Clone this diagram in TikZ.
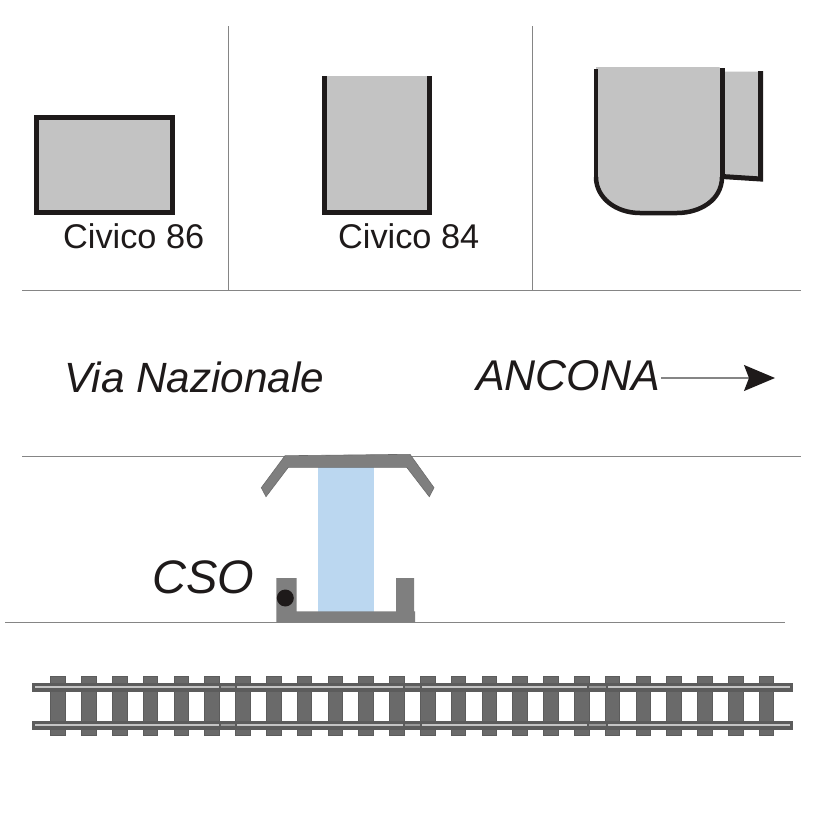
\documentclass[tikz,border=0pt]{standalone}
\usepackage{fontspec}
\setmainfont{Liberation Sans}
\usetikzlibrary{arrows.meta}
\definecolor{housegray}{HTML}{C3C3C3}
\definecolor{housedark}{HTML}{1E1A1A}
\definecolor{linegray}{HTML}{858585}
\definecolor{steelgray}{HTML}{7F7F7F}
\definecolor{steeledge}{HTML}{6C6C6C}
\definecolor{tiegray}{HTML}{6A6A6A}
\definecolor{railgray}{HTML}{5C5C5C}
\definecolor{railtop}{HTML}{C4C4C4}
\definecolor{railjoint}{HTML}{989898}
\definecolor{shelterblue}{HTML}{BBD7F0}
\tikzset{
	street/.style={linegray, line width=1pt},
	house/.style={fill=housegray, draw=none},
	wall/.style={housedark, line width=5pt, line join=miter},
	civico/.style={inner sep=0pt, anchor=base west, font=\fontsize{34.3}{40}\selectfont, text=housedark},
	placename/.style={inner sep=0pt, anchor=base west, font=\fontsize{#1}{50}\selectfont\itshape, text=housedark},
	tie/.style={fill=tiegray, draw=railgray, line width=0.6pt},
	rail/.style={fill=railgray, draw=none},
	railhead/.style={railtop, line width=1.2pt},
	jointhead/.style={railjoint, line width=1.2pt},
	steel/.style={fill=steelgray, draw=steeledge, line width=0.6pt}
}
\begin{document}
\begin{tikzpicture}[x=1pt, y=-1pt]
	\useasboundingbox (0,0) rectangle (827,827);
	\fill[white] (0,0) rectangle (827,827);
	% street lines
	\coordinate (lotA) at (22,290);
	\coordinate (lotB) at (801,290);
	\coordinate (kerbA) at (22,456);
	\coordinate (kerbB) at (801,456);
	\coordinate (platA) at (5,622);
	\coordinate (platB) at (785,622);
	\coordinate (fenceAtop) at (228,26);
	\coordinate (fenceAend) at (228,290);
	\coordinate (fenceBtop) at (532,26);
	\coordinate (fenceBend) at (532,290);
	\draw[street] (lotA) -- (lotB);
	\draw[street] (kerbA) -- (kerbB);
	\draw[street] (platA) -- (platB);
	\draw[street] (fenceAtop) -- (fenceAend);
	\draw[street] (fenceBtop) -- (fenceBend);
	% buildings
	\draw[wall, fill=housegray] (36.8,117.5) rectangle (172.5,212.5);
	\fill[house] (324.5,76) rectangle (429.5,212.5);
	\draw[wall] (324.5,76) -- (324.5,212.5) -- (429.5,212.5) -- (429.5,76);
	\fill[house] (722,71.5) -- (760.5,71.5) -- (760.5,179) -- (722,176.5) -- cycle;
	\draw[wall] (760.5,71) -- (760.5,179) -- (722,176.5);
	\fill[house] (596,67) -- (719,67) -- (722,70) -- (722,177) .. controls (722,200) and (700,213) .. (677,213) -- (640,213) .. controls (616,213) and (596,198) .. (596,177) -- cycle;
	\draw[housedark, line width=3.5pt] (596,69) -- (596,177);
	\draw[housedark, line width=4.5pt] (596,177) .. controls (596,198) and (616,213) .. (640,213) -- (677,213) .. controls (700,213) and (722,200) .. (722,177);
	\draw[wall] (722,68) -- (722,177);
	\node[civico] (civico86) at (63,248) {Civico 86};
	\node[civico] (civico84) at (338,248) {Civico 84};
	% road
	\node[placename=42.3] (via) at (64,392) {Via Nazionale};
	\node[placename=43] (ancona) at (476,390) {ANCONA};
	\coordinate (anconastart) at (661,378);
	\coordinate (anconaend) at (775,378);
	\draw[linegray, line width=1.2pt, -{Stealth[length=31pt, width=26pt, inset=5pt, housedark]}] (anconastart) -- (anconaend);
	% shelter
	\fill[shelterblue] (318,467) rectangle (374,612);
	\draw[steel] (285,455.7) -- (410,454.3) -- (434,487.7) -- (429.3,496.7) -- (406.7,467.3) -- (288.3,467.3) -- (266,496.7) -- (261.3,487.7) -- cycle;
	\fill[steelgray] (276.3,578) -- (296.7,578) -- (296.7,611.3) -- (396,611.3) -- (396,578) -- (414,578) -- (414,611.3) -- (415,611.3) -- (415,622.7) -- (276.3,622.7) -- cycle;
	\fill[housedark] (285.3,598) circle (8.5);
	\node[placename=47] (cso) at (152,593) {CSO};
	% tracks
	\foreach \i in {0,...,23}
		\draw[tie] ({50.6+30.8*\i},676.5) rectangle ({65.2+30.8*\i},735.5);
	\foreach \y in {687,725} {
		\fill[rail] (32.3,\y-4.5) rectangle (792.7,\y+4.5);
		\draw[railhead] (35,\y) -- (219,\y);
		\draw[jointhead] (221,\y) -- (235,\y);
		\draw[railhead] (237,\y) -- (403,\y);
		\draw[jointhead] (405,\y) -- (420,\y);
		\draw[railhead] (422,\y) -- (587,\y);
		\draw[jointhead] (589,\y) -- (606,\y);
		\draw[railhead] (608,\y) -- (790,\y);
	}
\end{tikzpicture}
\end{document}
